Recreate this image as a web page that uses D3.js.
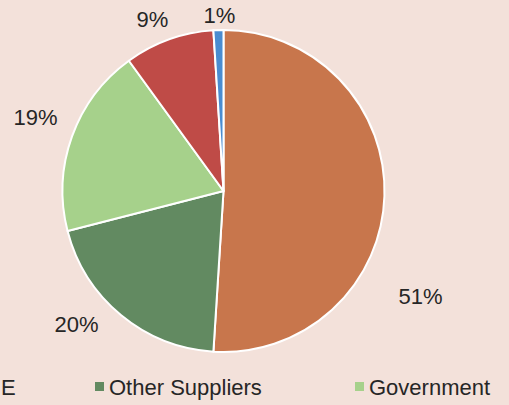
<!DOCTYPE html>
<html><head><meta charset="utf-8">
<script src="https://cdn.jsdelivr.net/npm/d3@7"></script>
<style>html,body{margin:0;padding:0;background:#f3e1da;}svg{display:block;}</style>
</head><body>
<svg id="chart" width="509" height="405"></svg>
<script>
const categories = ["Utility", "Other Suppliers", "Government", "Other", "Misc"];
const values = [51, 20, 19, 9, 1];
const labels = ["51%", "20%", "19%", "9%", "1%"];
const colors = ["#c8764c", "#628a61", "#a6d18b", "#bf4b47", "#4a8cd0"];
const legendItems = ["Other Suppliers", "Government"];
const legendColors = ["#628a61", "#a6d18b"];

const svg = d3.select("#chart");
svg.append("rect").attr("width", 509).attr("height", 405).attr("fill", "#f3e1da");
const cx = 223.5, cy = 191, r = 161;
const pie = d3.pie().sort(null).value(d => d)(values);
const arc = d3.arc().innerRadius(0).outerRadius(r);
const g = svg.append("g").attr("transform", `translate(${cx},${cy})`);
g.selectAll("path").data(pie).enter().append("path")
  .attr("d", arc).attr("fill", (d, i) => colors[i])
  .attr("stroke", "#ffffff").attr("stroke-width", 2).attr("stroke-linejoin", "round");

const labelPos = [[197, 105], [-147, 133], [-188, -74], [-71, -172], [-4, -176]];
const font = "Liberation Sans, Arial, sans-serif";
g.selectAll("text.lbl").data(pie).enter().append("text")
  .attr("class", "lbl")
  .attr("x", (d, i) => labelPos[i][0]).attr("y", (d, i) => labelPos[i][1])
  .attr("text-anchor", "middle").attr("dominant-baseline", "central")
  .attr("font-family", font).attr("font-size", 22)
  .attr("fill", "#262626").text((d, i) => labels[i]);

// legend
svg.append("text").attr("x", 1).attr("y", 387).attr("dominant-baseline", "central")
  .attr("font-family", font).attr("font-size", 22)
  .attr("fill", "#262626").text("E");
const legX = [95, 355];
legendItems.forEach((t, i) => {
  svg.append("rect").attr("x", legX[i]).attr("y", 382).attr("width", 9).attr("height", 9)
    .attr("fill", legendColors[i]);
  svg.append("text").attr("x", legX[i] + 14).attr("y", 387).attr("dominant-baseline", "central")
    .attr("font-family", font).attr("font-size", 22)
    .attr("fill", "#262626").text(t);
});
</script>
</body></html>
